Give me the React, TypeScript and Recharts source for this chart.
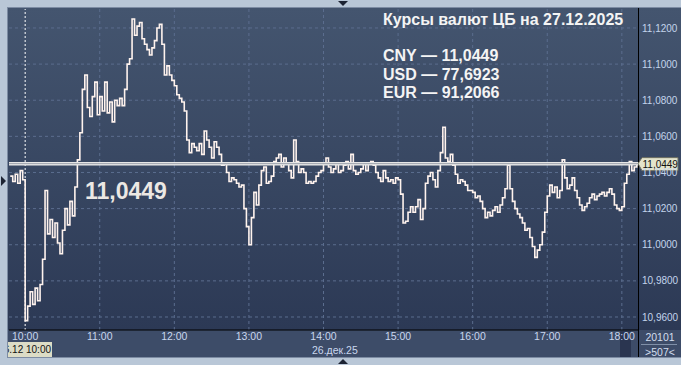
import React from 'react';
import { LineChart, Line, XAxis, YAxis, CartesianGrid, ReferenceLine } from 'recharts';

// CNY/RUB ticks, 2-minute samples, 26.12.2025
const preOpen = [11.038, 11.035, 11.039, 11.034, 11.041, 11.036];
const h10 = [10.958, 10.966, 10.974, 10.967, 10.976, 10.969, 10.978, 10.992, 11.03, 11.006, 11.014, 11.004, 11.012, 11.001, 10.995, 11.008, 11.02, 11.011, 11.024, 11.016, 11.032, 11.047, 11.062, 11.086, 11.094, 11.076, 11.071, 11.082, 11.09, 11.072];
const h11 = [11.082, 11.074, 11.09, 11.073, 11.079, 11.068, 11.08, 11.077, 11.081, 11.077, 11.086, 11.1, 11.103, 11.125, 11.116, 11.121, 11.123, 11.114, 11.111, 11.108, 11.105, 11.109, 11.113, 11.12, 11.122, 11.111, 11.094, 11.099, 11.094, 11.091];
const h12 = [11.088, 11.083, 11.081, 11.079, 11.074, 11.058, 11.051, 11.056, 11.054, 11.052, 11.056, 11.05, 11.063, 11.058, 11.054, 11.048, 11.057, 11.054, 11.05, 11.044, 11.045, 11.04, 11.035, 11.037, 11.036, 11.034, 11.032, 11.033, 11.02, 11.01];
const h13 = [11.0, 11.015, 11.029, 11.022, 11.033, 11.041, 11.043, 11.034, 11.035, 11.038, 11.046, 11.048, 11.05, 11.043, 11.048, 11.045, 11.041, 11.037, 11.058, 11.046, 11.04, 11.042, 11.04, 11.034, 11.035, 11.034, 11.035, 11.038, 11.04, 11.041];
const h14 = [11.045, 11.048, 11.043, 11.04, 11.042, 11.045, 11.04, 11.041, 11.044, 11.046, 11.042, 11.05, 11.041, 11.039, 11.04, 11.042, 11.045, 11.041, 11.045, 11.046, 11.044, 11.04, 11.037, 11.035, 11.041, 11.037, 11.035, 11.036, 11.034, 11.037];
const h15 = [11.036, 11.028, 11.012, 11.013, 11.018, 11.021, 11.018, 11.021, 11.025, 11.014, 11.02, 11.034, 11.038, 11.04, 11.036, 11.032, 11.041, 11.051, 11.065, 11.048, 11.046, 11.05, 11.044, 11.039, 11.034, 11.036, 11.035, 11.033, 11.03, 11.03];
const h16 = [11.029, 11.026, 11.027, 11.024, 11.02, 11.015, 11.018, 11.016, 11.019, 11.021, 11.018, 11.022, 11.026, 11.031, 11.044, 11.031, 11.024, 11.02, 11.017, 11.015, 11.012, 11.008, 11.009, 11.004, 10.999, 10.993, 10.997, 11.0, 11.007, 11.018];
const h17 = [11.027, 11.033, 11.029, 11.032, 11.026, 11.03, 11.047, 11.037, 11.031, 11.033, 11.037, 11.03, 11.026, 11.022, 11.019, 11.021, 11.023, 11.026, 11.028, 11.025, 11.027, 11.028, 11.029, 11.027, 11.029, 11.031, 11.028, 11.022, 11.02, 11.019];
const h18 = [11.021, 11.034, 11.039, 11.046, 11.041, 11.043, 11.0449];

const segments: [number, number[]][] = [
  [588, preOpen], [600, h10], [660, h11], [720, h12], [780, h13],
  [840, h14], [900, h15], [960, h16], [1020, h17], [1080, h18],
];

const yTicks = [10.96, 10.98, 11.0, 11.02, 11.04, 11.06, 11.08, 11.1, 11.12];
const xTicks = [600, 660, 720, 780, 840, 900, 960, 1020, 1080];

const lastPrice = 11.0449;
const rates = [
  ['CNY', '11,0449'],
  ['USD', '77,6923'],
  ['EUR', '91,2066'],
];

const data = segments.flatMap(([start, vals]) =>
  vals.map((v, i) => ({ t: start + i * 2, v })),
);

const fmtPrice = (v: number) => v.toFixed(4).replace('.', ',');
const fmtTime = (m: number) => `${Math.floor(m / 60)}:00`;

const FONT = '"Liberation Sans", Arial, sans-serif';

const PriceLabel = (props: any) => {
  const vb = props.viewBox || {};
  const y = vb.y ?? 0;
  const right = (vb.x ?? 0) + (vb.width ?? 0);
  return (
    <g>
      <text x={85} y={y + 35} fontSize={23} fontWeight="bold" fill="#ece8e4" fontFamily={FONT}>
        {fmtPrice(lastPrice)}
      </text>
      <polygon
        points={`${right},${y} ${right + 4},${y - 6} ${right + 40},${y - 6} ${right + 40},${y + 7} ${right + 4},${y + 7}`}
        fill="#e4e4cc"
        stroke="#6f6f62"
        strokeWidth={1}
      />
      <text x={right + 4.5} y={y + 4} fontSize={10} fill="#111" fontFamily={FONT}>
        {fmtPrice(lastPrice)}
      </text>
    </g>
  );
};

const abs = (s: React.CSSProperties): React.CSSProperties => ({ position: 'absolute', ...s });

export default function App() {
  return (
    <div style={abs({ left: 0, top: 0, width: 681, height: 365, background: '#b9c7d7', overflow: 'hidden', fontFamily: FONT })}>
      {/* panel */}
      <div style={abs({ left: 7, top: 7, width: 674, height: 351, background: '#7d8ca3' })} />
      <div style={abs({ left: 8, top: 8, width: 673, height: 322, background: 'linear-gradient(#44556f, #2c3955)' })} />
      <div style={abs({ left: 8, top: 330, width: 673, height: 27, background: '#3d4c68' })} />
      <div style={abs({ left: 620, top: 331, width: 11, height: 26, background: '#2a3550' })} />
      <div style={abs({ left: 638, top: 8, width: 1, height: 349, background: '#000' })} />

      <div style={abs({ left: 0, top: 0 })}>
        <LineChart width={681} height={365} data={data} margin={{ top: 9, right: 0, bottom: 8, left: 9 }}>
          <CartesianGrid stroke="#5b6d8e" strokeDasharray="3 3" verticalValues={xTicks.slice(1)} horizontalValues={yTicks} />
          <XAxis
            type="number"
            dataKey="t"
            domain={[587, 1093]}
            ticks={xTicks}
            tickFormatter={fmtTime}
            allowDataOverflow
            height={27}
            tickLine={false}
            tickSize={0}
            tickMargin={3}
            axisLine={{ stroke: '#000', strokeWidth: 1.2 }}
            tick={{ fill: '#c9d7ee', fontSize: 10.5, fontFamily: FONT }}
          />
          <YAxis
            orientation="right"
            domain={[10.9528, 11.1305]}
            ticks={yTicks}
            tickFormatter={fmtPrice}
            allowDataOverflow
            width={43}
            tickLine={false}
            tickSize={0}
            tickMargin={4}
            axisLine={false}
            tick={{ fill: '#c3d4ec', fontSize: 10, fontFamily: FONT }}
          />
          <ReferenceLine x={600} stroke="#ffffff" strokeDasharray="2 2" strokeWidth={1} />
          <Line
            type="stepAfter"
            dataKey="v"
            stroke="#fff3ee"
            strokeWidth={1.6}
            dot={false}
            isAnimationActive={false}
          />
          <ReferenceLine y={lastPrice} stroke="#e6e6e6" strokeWidth={3.5} label={(p: any) => <PriceLabel {...p} />} />
          <ReferenceLine y={lastPrice} stroke="#9ea3ad" strokeWidth={1} />
        </LineChart>
      </div>

      {/* title and rates */}
      <div style={abs({ left: 383, top: 10, color: '#f4f4f4', fontSize: 16, fontWeight: 'bold', lineHeight: '19px', whiteSpace: 'nowrap' })}>
        Курсы валют ЦБ на 27.12.2025
      </div>
      <div style={abs({ left: 383, top: 47, color: '#f4f4f4', fontSize: 16, fontWeight: 'bold', lineHeight: '18.5px', whiteSpace: 'nowrap' })}>
        {rates.map(([c, v]) => (
          <div key={c}>{`${c} — ${v}`}</div>
        ))}
      </div>

      {/* bottom axis extras */}
      <div style={abs({ left: 312, top: 344, color: '#c9d7ee', fontSize: 10.5, lineHeight: '12px', whiteSpace: 'nowrap' })}>
        26.дек.25
      </div>
      <div style={abs({ left: 8, top: 342, width: 44, height: 15, background: '#dcdcc6', overflow: 'hidden' })}>
        <div style={abs({ right: 1, top: 1, fontSize: 10, lineHeight: '13px', color: '#111', whiteSpace: 'nowrap' })}>26.12 10:00</div>
      </div>
      <div style={abs({ left: 639, top: 331, width: 42, textAlign: 'center', color: '#d3deee', fontSize: 10.5, lineHeight: '12px' })}>
        20101
      </div>
      <div style={abs({ left: 641, top: 344, width: 36, height: 1, background: '#8090a8' })} />
      <div style={abs({ left: 639, top: 346, width: 42, textAlign: 'center', color: '#d3deee', fontSize: 10.5, lineHeight: '12px' })}>
        {'>507<'}
      </div>

      {/* scroll markers */}
      <div style={abs({ left: 338, top: 1, width: 0, height: 0, borderLeft: '5px solid transparent', borderRight: '5px solid transparent', borderTop: '5px solid #1c2333' })} />
      <div style={abs({ left: 338, top: 359, width: 0, height: 0, borderLeft: '5px solid transparent', borderRight: '5px solid transparent', borderBottom: '5px solid #1c2333' })} />
      <div style={abs({ left: 1, top: 176, width: 0, height: 0, borderTop: '5px solid transparent', borderBottom: '5px solid transparent', borderLeft: '5px solid #1c2333' })} />
    </div>
  );
}
